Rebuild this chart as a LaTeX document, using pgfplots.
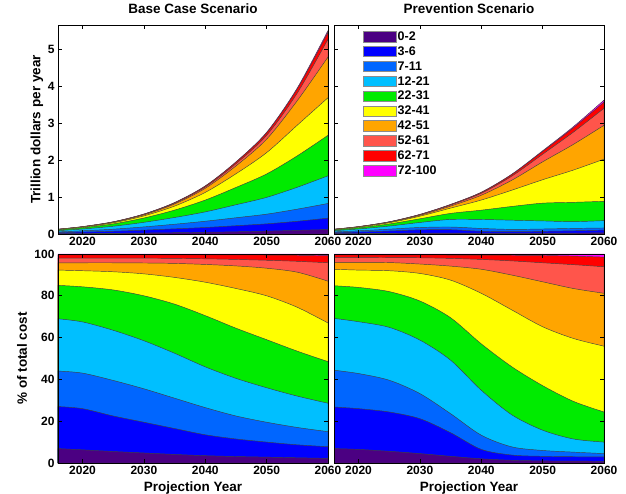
\documentclass[border=0pt]{standalone}
\usepackage{pgfplots}
\pgfplotsset{compat=1.18}
\usepackage{pgfplotstable}
\usepackage{fontspec}
\setmainfont{Liberation Sans}

\definecolor{k1}{RGB}{75,0,130}
\definecolor{k2}{RGB}{0,0,255}
\definecolor{k3}{RGB}{0,102,255}
\definecolor{k4}{RGB}{0,191,255}
\definecolor{k5}{RGB}{0,235,0}
\definecolor{k6}{RGB}{255,255,0}
\definecolor{k7}{RGB}{255,165,0}
\definecolor{k8}{RGB}{255,85,75}
\definecolor{k9}{RGB}{255,0,0}
\definecolor{k10}{RGB}{255,0,255}

% cumulative values (top of each age band), trillion dollars per year
\pgfplotstableread{
year c1 c2 c3 c4 c5 c6 c7 c8 c9 c10
2016 0.009 0.035 0.057 0.090 0.111 0.120 0.125 0.127 0.129 0.13
2020 0.0126 0.052 0.086 0.135 0.169 0.184 0.192 0.196 0.199 0.20
2025 0.018 0.074 0.130 0.210 0.273 0.302 0.316 0.323 0.329 0.33
2030 0.026 0.105 0.192 0.316 0.432 0.489 0.517 0.529 0.538 0.54
2035 0.035 0.140 0.264 0.446 0.646 0.755 0.812 0.832 0.847 0.85
2040 0.046 0.176 0.345 0.598 0.917 1.125 1.235 1.270 1.295 1.30
2045 0.060 0.224 0.439 0.790 1.258 1.628 1.839 1.899 1.942 1.95
2050 0.077 0.275 0.536 0.990 1.623 2.200 2.563 2.668 2.736 2.75
2055 0.099 0.344 0.672 1.264 2.113 2.943 3.606 3.812 3.926 3.95
2060 0.121 0.429 0.825 1.573 2.668 3.685 4.785 5.269 5.456 5.50
}\baseabs

\pgfplotstableread{
year c1 c2 c3 c4 c5 c6 c7 c8 c9 c10
2016 0.009 0.035 0.058 0.090 0.110 0.121 0.125 0.128 0.129 0.13
2020 0.013 0.052 0.086 0.135 0.168 0.185 0.192 0.197 0.199 0.20
2025 0.018 0.081 0.131 0.214 0.271 0.304 0.316 0.324 0.329 0.33
2030 0.024 0.112 0.176 0.312 0.411 0.481 0.505 0.520 0.528 0.53
2035 0.026 0.116 0.189 0.394 0.556 0.700 0.754 0.783 0.796 0.80
2040 0.023 0.073 0.150 0.393 0.644 0.918 1.048 1.101 1.124 1.13
2045 0.021 0.062 0.125 0.373 0.745 1.186 1.456 1.567 1.610 1.62
2050 0.023 0.072 0.135 0.353 0.833 1.467 1.951 2.156 2.234 2.25
2055 0.026 0.087 0.151 0.334 0.856 1.728 2.422 2.752 2.871 2.90
2060 0.029 0.105 0.163 0.362 0.883 2.024 2.939 3.399 3.566 3.62
}\prevabs

% cumulative percentages
\pgfplotstableread{
year c1 c2 c3 c4 c5 c6 c7 c8 c9 c10
2016 6.9 27 44 69 85 92.3 95.8 98 99.6 100
2020 6.3 26 43 67.5 84.3 92 95.8 98 99.6 100
2025 5.5 22.5 39.5 63.5 82.8 91.5 95.8 98 99.6 100
2030 4.8 19.5 35.5 58.5 80 90.5 95.7 98 99.6 100
2035 4.1 16.5 31 52.5 76 88.8 95.5 97.9 99.6 100
2040 3.5 13.5 26.5 46 70.5 86.5 95.0 97.7 99.6 100
2045 3.1 11.5 22.5 40.5 64.5 83.5 94.3 97.4 99.6 100
2050 2.8 10 19.5 36 59 80 93.2 97.0 99.5 100
2055 2.5 8.7 17 32 53.5 74.5 91.3 96.5 99.4 100
2060 2.2 7.8 15 28.6 48.5 67 87 95.8 99.2 100
}\basepct

\pgfplotstableread{
year c1 c2 c3 c4 c5 c6 c7 c8 c9 c10
2016 6.9 26.8 44.4 69.2 84.8 92.7 96 98.4 99.6 100
2020 6.5 26 42.8 67.6 84 92.3 96 98.4 99.6 100
2025 5.6 24.4 39.6 64.9 82 92 95.9 98.3 99.6 100
2030 4.5 21.2 33.2 58.8 77.5 90.7 95.2 98.2 99.6 100
2035 3.2 14.5 23.6 49.2 69.5 87.5 94.2 97.9 99.5 100
2040 2.0 6.5 13.3 34.8 57 81.2 92.7 97.4 99.5 100
2045 1.3 3.8 7.7 23 46 73.2 89.9 96.7 99.4 100
2050 1.0 3.2 6.0 15.7 37 65.2 86.7 95.8 99.3 100
2055 0.9 3.0 5.2 11.5 29.5 59.6 83.5 94.9 99.0 100
2060 0.8 2.9 4.5 10 24.4 55.9 81.2 93.9 98.5 100
}\prevpct

\newcommand\layers[1]{%
\addplot[lay,fill=k10] table[x=year,y=c10]{#1}\closedcycle;
\addplot[lay,fill=k9] table[x=year,y=c9]{#1}\closedcycle;
\addplot[lay,fill=k8] table[x=year,y=c8]{#1}\closedcycle;
\addplot[lay,fill=k7] table[x=year,y=c7]{#1}\closedcycle;
\addplot[lay,fill=k6] table[x=year,y=c6]{#1}\closedcycle;
\addplot[lay,fill=k5] table[x=year,y=c5]{#1}\closedcycle;
\addplot[lay,fill=k4] table[x=year,y=c4]{#1}\closedcycle;
\addplot[lay,fill=k3] table[x=year,y=c3]{#1}\closedcycle;
\addplot[lay,fill=k2] table[x=year,y=c2]{#1}\closedcycle;
\addplot[lay,fill=k1] table[x=year,y=c1]{#1}\closedcycle;
}

\pgfplotsset{
  lay/.style={draw=black!75, line width=0.45pt, smooth, tension=0.5, mark=none, forget plot},
  panel/.style={
    scale only axis, width=270pt, height=209pt,
    xmin=2016, xmax=2060,
    xtick={2020,2030,2040,2050,2060},
    axis on top,
    axis line style={black, line width=0.8pt},
    major tick length=4pt,
    every tick/.style={black, line width=0.8pt},
    /pgf/number format/assume math mode=true,
    /pgf/number format/1000 sep={},
    ticklabel style={font=\bfseries\fontsize{12}{12}\selectfont},
    label style={font=\bfseries\fontsize{13.5}{14}\selectfont},
    title style={font=\bfseries\fontsize{13.5}{14}\selectfont, at={(axis description cs:0.5,1.048)}, anchor=center},
  },
}

\begin{document}
\begin{tikzpicture}
\path[use as bounding box] (0,0) rectangle (626pt,493pt);

% top left
\begin{axis}[panel, at={(58pt,259pt)}, anchor=south west,
  ymin=0, ymax=5.65, ytick={0,1,2,3,4,5},
  title={Base Case Scenario},
  ylabel={Trillion dollars per year},
  ylabel style={at={(axis description cs:-0.078,0.5)}, anchor=center}]
\layers{\baseabs}
\end{axis}

% top right
\begin{axis}[panel, at={(334pt,259pt)}, anchor=south west,
  ymin=0, ymax=5.65, ytick={0,1,2,3,4,5}, yticklabels={},
  title={Prevention Scenario},
  legend style={draw=none, fill=none, at={(0.107,0.975)}, anchor=north west,
    font=\bfseries\fontsize{12.5}{13}\selectfont, inner sep=0pt, row sep=2.3pt,
    nodes={inner sep=1.2pt}},
  legend cell align=left,
  legend image code/.code={\draw[#1, draw=black!45, line width=0.4pt] (0pt,-5pt) rectangle (33pt,5.5pt);}]
\addlegendimage{fill=k1}
\addlegendimage{fill=k2}
\addlegendimage{fill=k3}
\addlegendimage{fill=k4}
\addlegendimage{fill=k5}
\addlegendimage{fill=k6}
\addlegendimage{fill=k7}
\addlegendimage{fill=k8}
\addlegendimage{fill=k9}
\addlegendimage{fill=k10}
\legend{0-2,3-6,7-11,12-21,22-31,32-41,42-51,52-61,62-71,72-100}
\layers{\prevabs}
\end{axis}

% bottom left
\begin{axis}[panel, at={(58pt,30pt)}, anchor=south west,
  ymin=0, ymax=100, ytick={0,20,40,60,80,100},
  ylabel={\% of total cost},
  ylabel style={at={(axis description cs:-0.133,0.5)}, anchor=center},
  xlabel={Projection Year},
  xlabel style={at={(axis description cs:0.5,-0.12)}, anchor=center}]
\layers{\basepct}
\end{axis}

% bottom right
\begin{axis}[panel, at={(334pt,30pt)}, anchor=south west,
  ymin=0, ymax=100, ytick={0,20,40,60,80,100}, yticklabels={},
  xlabel={Projection Year},
  xlabel style={at={(axis description cs:0.5,-0.12)}, anchor=center}]
\layers{\prevpct}
\end{axis}
\end{tikzpicture}
\end{document}
